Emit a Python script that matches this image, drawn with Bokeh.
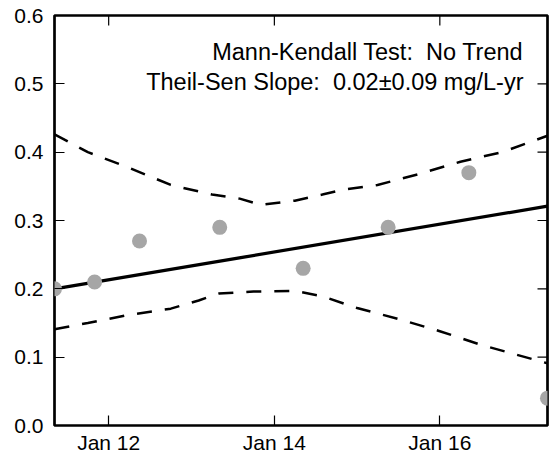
import math
import pandas as pd
from bokeh.plotting import figure
from bokeh.models import (Range1d, FixedTicker, DatetimeTickFormatter,
                          PrintfTickFormatter, Label, ColumnDataSource)
from bokeh.embed import file_html
from bokeh.resources import INLINE

# ---- data ----
sample_dates = ["2011-05-07", "2011-10-31", "2012-05-16", "2013-05-05",
                "2014-05-08", "2015-05-18", "2016-05-08", "2017-04-20"]
sample_values = [0.20, 0.21, 0.27, 0.29, 0.23, 0.29, 0.37, 0.04]

trend_dates = ["2011-05-07", "2017-04-20"]
trend_values = [0.200, 0.321]

upper_dates = ["2011-05-07", "2011-10-01", "2012-04-01", "2012-10-01", "2013-04-01",
               "2013-08-01", "2013-11-01", "2014-04-01", "2014-08-01", "2014-11-01",
               "2015-04-01", "2015-10-01", "2016-04-01", "2016-10-01", "2017-04-20"]
upper_values = [0.426, 0.400, 0.377, 0.352, 0.338, 0.332, 0.323, 0.329, 0.338, 0.345,
                0.352, 0.368, 0.386, 0.400, 0.424]

lower_dates = ["2011-05-07", "2011-10-01", "2012-04-01", "2012-10-01", "2013-02-01",
               "2013-05-01", "2013-10-01", "2014-04-01", "2014-08-01", "2015-01-01",
               "2015-07-01", "2016-01-01", "2016-07-01", "2017-04-20"]
lower_values = [0.141, 0.150, 0.162, 0.171, 0.183, 0.193, 0.196, 0.197, 0.189, 0.172,
                0.156, 0.138, 0.118, 0.091]

x_tick_dates = ["2012-01-01", "2014-01-01", "2016-01-01"]
y_ticks = [0.0, 0.1, 0.2, 0.3, 0.4, 0.5, 0.6]

annotation_lines = ["Mann-Kendall Test: \u00a0No Trend",
                    "Theil-Sen Slope: \u00a00.02\u00b10.09 mg/L-yr"]
annotation_y = [0.546, 0.502]

# ---- helpers ----
def ms(d):
    return pd.Timestamp(d).value // 10**6

def dts(lst):
    return pd.to_datetime(lst)

FONT = "Liberation Sans"

x_start = ms(sample_dates[0])
x_end = ms(sample_dates[-1])
y_min, y_max = y_ticks[0], y_ticks[-1]

p = figure(width=550, height=458, x_axis_type="datetime",
           output_backend="svg", toolbar_location=None,
           x_range=Range1d(x_start, x_end), y_range=Range1d(y_min, y_max),
           min_border_left=54, min_border_right=3, min_border_top=15,
           min_border_bottom=33)
p.background_fill_color = "white"
p.border_fill_color = "white"
p.xgrid.visible = False
p.ygrid.visible = False
p.outline_line_color = "black"
p.outline_line_width = 2.7
p.outline_line_alpha = 1.0

xticker = FixedTicker(ticks=[ms(d) for d in x_tick_dates])
yticker = FixedTicker(ticks=y_ticks)
fmt = DatetimeTickFormatter(years="%b %y", months="%b %y", days="%b %y",
                            hours="%b %y", hourmin="%b %y", minutes="%b %y",
                            minsec="%b %y", seconds="%b %y", milliseconds="%b %y",
                            microseconds="%b %y")

def style_axis(ax):
    ax.axis_line_color = None
    ax.major_tick_in = 10
    ax.major_tick_out = 0
    ax.major_tick_line_color = "black"
    ax.major_tick_line_width = 1.2
    ax.minor_tick_line_color = None
    ax.major_label_text_font = FONT
    ax.major_label_text_color = "black"
    ax.major_label_text_font_size = "21px"

xa = p.xaxis[0]
xa.ticker = xticker
xa.formatter = fmt
style_axis(xa)
xa.major_label_standoff = 5

ya = p.yaxis[0]
ya.ticker = yticker
ya.formatter = PrintfTickFormatter(format="%.1f")
style_axis(ya)
ya.major_label_standoff = 11

# mirrored inward ticks on top and right edges
p.ray(x=dts(x_tick_dates), y=[y_max] * len(x_tick_dates), length=10,
      length_units="screen", angle=-math.pi / 2, line_color="black",
      line_width=1.2)
p.ray(x=[pd.Timestamp(sample_dates[-1])] * len(y_ticks), y=y_ticks, length=10,
      length_units="screen", angle=math.pi, line_color="black", line_width=1.2)

# ---- glyphs ----
p.line(dts(upper_dates), upper_values, line_color="black", line_width=2.5,
       line_dash="15 13")
p.line(dts(lower_dates), lower_values, line_color="black", line_width=2.5,
       line_dash="15 13")
p.line(dts(trend_dates), trend_values, line_color="black", line_width=3.2)

src = ColumnDataSource(data=dict(x=dts(sample_dates), y=sample_values))
p.scatter("x", "y", source=src, size=15, fill_color="#a6a6a6",
          line_color=None)

for txt, yv in zip(annotation_lines, annotation_y):
    p.add_layout(Label(x=x_end, y=yv, x_offset=-24, text=txt,
                       text_align="right", text_baseline="alphabetic",
                       text_font=FONT, text_font_size="23.5px",
                       text_color="black"))

open("out.html", "w").write(file_html(p, INLINE))
